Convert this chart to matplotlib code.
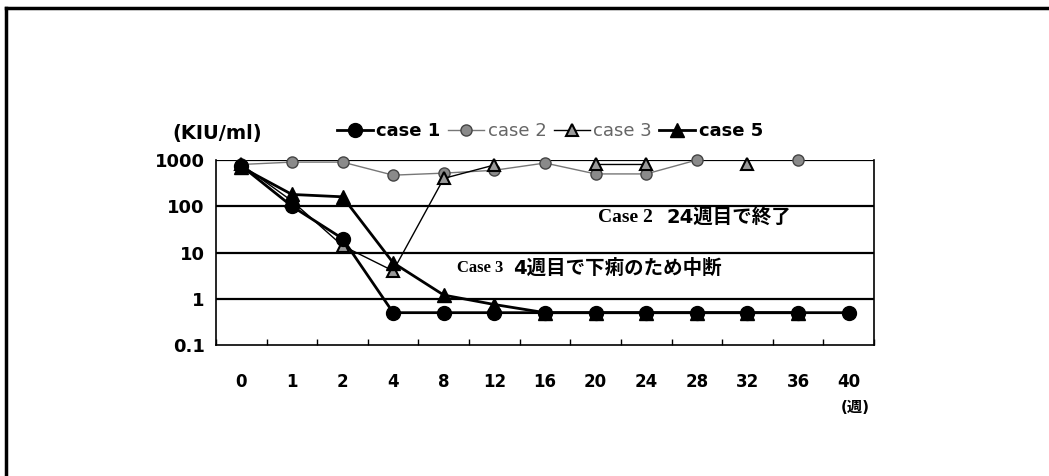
import numpy as np
import matplotlib
matplotlib.use('Agg')
import matplotlib.pyplot as plt
from matplotlib.lines import Line2D

plt.rcParams['font.family'] = ['DejaVu Sans', 'Noto Sans CJK JP']

# data
weeks = ['0', '1', '2', '4', '8', '12', '16', '20', '24', '28', '32', '36', '40']
nan = np.nan
case1 = [750, 100, 20, 0.5, 0.5, 0.5, 0.5, 0.5, 0.5, 0.5, 0.5, 0.5, 0.5]
case2 = [800, 900, 900, 470, 520, 600, 860, 500, 500, 1000, nan, 1000, nan]
case3 = [800, 130, 14, 4, 400, 780, nan, 800, 800, nan, 800, nan, nan]
case5 = [700, 180, 160, 6, 1.2, 0.75, 0.5, 0.5, 0.5, 0.5, 0.5, 0.5, nan]
ytick_vals = [0.1, 1, 10, 100, 1000]
ytick_labels = ['0.1', '1', '10', '100', '1000']

fig = plt.figure(figsize=(10.49, 4.76), dpi=100)
ax = fig.add_axes([216/1049, 1-345/476, (874-216)/1049, (345-160)/476])

x = np.arange(len(weeks))

l2, = ax.plot(x, case2, color='#777777', lw=1, marker='o', ms=8,
              mfc='#8a8a8a', mec='#444444', mew=1, zorder=3, clip_on=False)
l3, = ax.plot(x, case3, color='black', lw=1, marker='^', ms=9,
              mfc='#9a9a9a', mec='black', mew=1.5, zorder=4, clip_on=False)
l5, = ax.plot(x, case5, color='black', lw=2, marker='^', ms=10,
              mfc='black', mec='black', zorder=5, clip_on=False)
l1, = ax.plot(x, case1, color='black', lw=2, marker='o', ms=10,
              mfc='black', mec='black', zorder=6, clip_on=False)

ax.set_yscale('log')
ax.set_ylim(0.1, 1000)
ax.set_xlim(-0.5, len(weeks) - 0.5)

ax.set_yticks(ytick_vals)
ax.set_yticklabels(ytick_labels, fontsize=13, fontweight='bold')
ax.yaxis.set_minor_locator(matplotlib.ticker.NullLocator())
ax.tick_params(axis='y', length=0, pad=8)

ax.set_xticks(x)
ax.set_xticklabels(weeks, fontsize=12, fontweight='bold')
ax.set_xticks(np.arange(-0.5, len(weeks)), minor=True)
ax.tick_params(axis='x', which='major', length=0, pad=20)
ax.tick_params(axis='x', which='minor', direction='in', length=4, width=1)

for v in [1, 10, 100, 1000]:
    ax.axhline(v, color='black', lw=1.6, zorder=2)
for s in ['left', 'bottom', 'right']:
    ax.spines[s].set_linewidth(1.2)
ax.spines['top'].set_visible(False)

# unit labels
fig.text(172/1049, 1-133/476, '(KIU/ml)', fontsize=14, fontweight='bold',
         va='center', ha='left')
fig.text(870/1049, 1-407/476, '(週)', fontsize=11, fontweight='bold',
         va='center', ha='right')

# notes inside the plot
fig.text(598/1049, 1-218/476, 'Case 2', family='Liberation Serif',
         fontsize=14, fontweight='bold', va='center')
fig.text(667/1049, 1-218/476, '24週目で終了', fontsize=14, fontweight='bold',
         va='center')
fig.text(457/1049, 1-268/476, 'Case 3', family='Liberation Serif',
         fontsize=12, fontweight='bold', va='center')
fig.text(513/1049, 1-268/476, '4週目で下痢のため中断', fontsize=14,
         fontweight='bold', va='center')

leg = fig.legend([l1, l2, l3, l5], ['case 1', 'case 2', 'case 3', 'case 5'],
                 loc='center', bbox_to_anchor=(550/1049, 1-131/476), ncol=4,
                 frameon=False, fontsize=13, handlelength=2.0,
                 handletextpad=0.2, columnspacing=0.4, borderpad=0)
for t, c, w in zip(leg.get_texts(), ['black', '#666666', '#666666', 'black'],
                   ['bold', 'normal', 'normal', 'bold']):
    t.set_color(c)
    t.set_fontweight(w)

# outer frame of the page
fig.add_artist(Line2D([6/1049, 1], [1-8/476, 1-8/476], color='black', lw=2.5))
fig.add_artist(Line2D([6/1049, 6/1049], [0, 1-8/476], color='black', lw=2.5))

fig.savefig('out.png', dpi=100)
